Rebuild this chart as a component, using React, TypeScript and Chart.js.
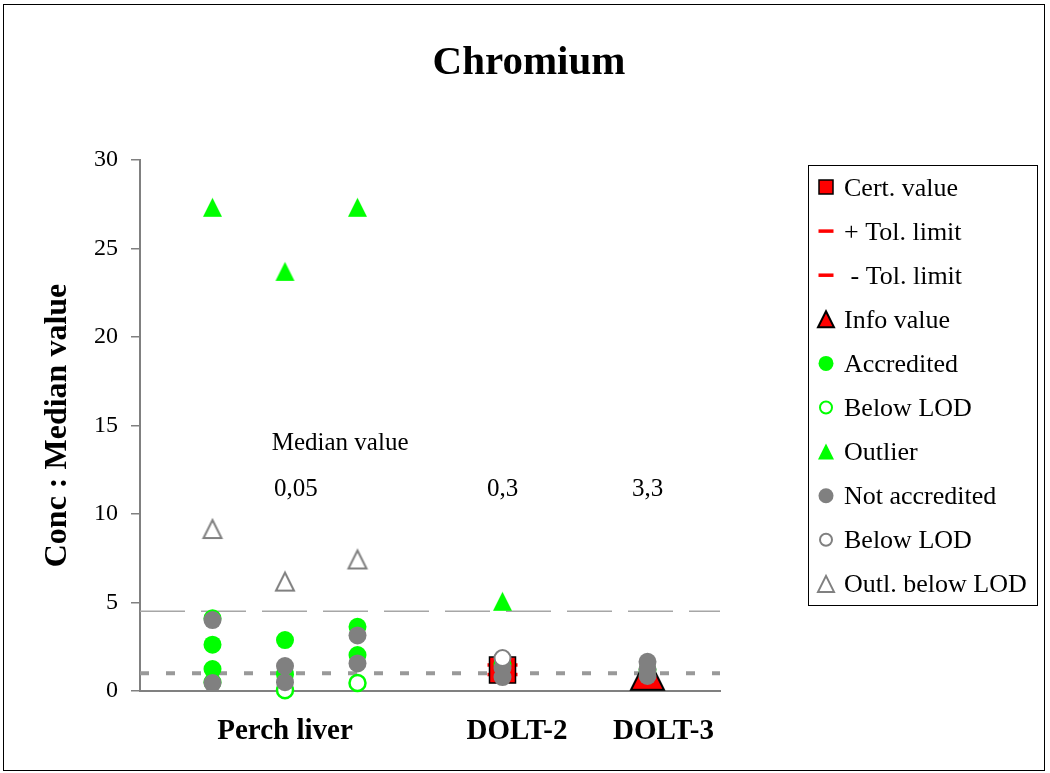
import React, { useEffect, useRef } from 'react';
import { Chart, registerables } from 'chart.js';

Chart.register(...registerables);

const FONT = '"Liberation Serif", "Times New Roman", Times, serif';
const AXIS_COLOR = '#808080';
const GREEN = '#00ff00';
const GREY = '#808080';
const RED = '#ff0000';

// Samples on the x axis and where their names sit
const categoryNames = ['Perch liver', 'DOLT-2', 'DOLT-3'];
const categoryTickX = [2, 5.2, 7.22];

// Median concentration printed above each sample
const medianTitle = 'Median value';
const medianValues = ['0,05', '0,3', '3,3'];
const medianLabelX = [2.15, 5, 7];
const medianTitlePos = { x: 2.76, y: 13.6 };
const medianValueY = 11.0;

// Axis ranges
const xRange = [0, 8];
const yRange = [0, 30];
const yStep = 5;

// Horizontal reference levels (ratio to median)
const upperLevel = 4.5;
const unityLevel = 1;

// Ratios concentration : median value
const certValue = [{ x: 5, y: 1.18 }];
const tolUpper = [{ x: 5, y: 1.47 }];
const tolLower = [{ x: 5, y: 0.93 }];
const infoValue = [{ x: 7, y: 1.0 }];
const accredited = [
  { x: 1, y: 4.11 }, { x: 1, y: 2.62 }, { x: 1, y: 1.24 }, { x: 1, y: 0.5 },
  { x: 2, y: 2.88 }, { x: 2, y: 0.95 },
  { x: 3, y: 3.63 }, { x: 3, y: 2.03 },
  { x: 5, y: 1.5 }, { x: 7, y: 1.2 },
];
const accreditedBelowLod = [{ x: 2, y: 0.04 }, { x: 3, y: 0.45 }];
const outliers = [{ x: 1, y: 27.33 }, { x: 2, y: 23.71 }, { x: 3, y: 27.33 }, { x: 5, y: 5.07 }];
const notAccredited = [
  { x: 1, y: 4.01 }, { x: 1, y: 0.45 },
  { x: 2, y: 1.41 }, { x: 2, y: 0.5 },
  { x: 3, y: 3.14 }, { x: 3, y: 1.56 },
  { x: 5, y: 1.3 }, { x: 5, y: 0.79 },
  { x: 7, y: 1.65 }, { x: 7, y: 1.25 }, { x: 7, y: 0.85 },
];
const notAccreditedBelowLod = [{ x: 5, y: 1.86 }];
const outliersBelowLod = [{ x: 1, y: 9.15 }, { x: 2, y: 6.18 }, { x: 3, y: 7.43 }];

type Shape = 'circle' | 'rect' | 'line' | 'triangle';
type Marker = { shape: Shape; size: number; legendSize: number; fill: string; stroke: string; lineWidth: number };
type Series = { label: string; data: { x: number; y: number }[]; marker: Marker; order: number };

const series: Series[] = [
  { label: 'Cert. value', data: certValue, order: 8, marker: { shape: 'rect', size: 26, legendSize: 14, fill: RED, stroke: '#000', lineWidth: 1.5 } },
  { label: '+ Tol. limit', data: tolUpper, order: 9, marker: { shape: 'line', size: 30, legendSize: 15, fill: RED, stroke: RED, lineWidth: 3.5 } },
  { label: ' - Tol. limit', data: tolLower, order: 9, marker: { shape: 'line', size: 30, legendSize: 15, fill: RED, stroke: RED, lineWidth: 3.5 } },
  { label: 'Info value', data: infoValue, order: 7, marker: { shape: 'triangle', size: 33, legendSize: 16, fill: RED, stroke: '#000', lineWidth: 2 } },
  { label: 'Accredited', data: accredited, order: 6, marker: { shape: 'circle', size: 18, legendSize: 15, fill: GREEN, stroke: GREEN, lineWidth: 0 } },
  { label: 'Below LOD', data: accreditedBelowLod, order: 4, marker: { shape: 'circle', size: 16, legendSize: 12, fill: '#ffffff', stroke: GREEN, lineWidth: 2.5 } },
  { label: 'Outlier', data: outliers, order: 5, marker: { shape: 'triangle', size: 19, legendSize: 16, fill: GREEN, stroke: GREEN, lineWidth: 0 } },
  { label: 'Not accredited', data: notAccredited, order: 3, marker: { shape: 'circle', size: 18, legendSize: 15, fill: GREY, stroke: GREY, lineWidth: 0 } },
  { label: 'Below LOD', data: notAccreditedBelowLod, order: 2, marker: { shape: 'circle', size: 16, legendSize: 12, fill: '#ffffff', stroke: GREY, lineWidth: 2 } },
  { label: 'Outl. below LOD', data: outliersBelowLod, order: 1, marker: { shape: 'triangle', size: 18, legendSize: 16, fill: '#ffffff', stroke: GREY, lineWidth: 2 } },
];

// Upright triangle with equal width and height, centred in its canvas
function triangleImage(m: Marker): HTMLCanvasElement {
  const pad = Math.ceil(m.lineWidth) + 1;
  const c = document.createElement('canvas');
  c.width = m.size + pad * 2;
  c.height = m.size + pad * 2;
  const g = c.getContext('2d')!;
  g.beginPath();
  g.moveTo(pad + m.size / 2, pad);
  g.lineTo(pad + m.size, pad + m.size);
  g.lineTo(pad, pad + m.size);
  g.closePath();
  g.fillStyle = m.fill;
  g.fill();
  if (m.lineWidth > 0) {
    g.lineWidth = m.lineWidth;
    g.strokeStyle = m.stroke;
    g.lineJoin = 'miter';
    g.stroke();
  }
  return c;
}

function markerDataset(s: Series): any {
  const m = s.marker;
  let pointStyle: any = m.shape;
  let radius = m.size / 2;
  if (m.shape === 'rect') radius = m.size / Math.SQRT2;
  if (m.shape === 'triangle') pointStyle = triangleImage(m);
  return {
    type: 'scatter',
    label: s.label,
    data: s.data,
    order: s.order,
    clip: false,
    showLine: false,
    pointStyle,
    pointRadius: radius,
    pointHoverRadius: radius,
    backgroundColor: m.fill,
    borderColor: m.stroke,
    borderWidth: m.lineWidth,
    pointBorderWidth: m.lineWidth,
    pointHoverBorderWidth: m.lineWidth,
  };
}

function levelDataset(level: number, color: string, width: number, dash: number[]): any {
  return {
    type: 'line',
    data: [{ x: xRange[0], y: level }, { x: xRange[1], y: level }],
    order: 20,
    borderColor: color,
    borderWidth: width,
    borderDash: dash,
    borderCapStyle: 'butt',
    pointRadius: 0,
    pointHoverRadius: 0,
    fill: false,
  };
}

function drawLegendMarker(ctx: CanvasRenderingContext2D, m: Marker, x: number, y: number) {
  const s = m.legendSize;
  ctx.save();
  ctx.beginPath();
  if (m.shape === 'circle') ctx.arc(x, y, s / 2, 0, Math.PI * 2);
  else if (m.shape === 'rect') ctx.rect(x - s / 2, y - s / 2, s, s);
  else if (m.shape === 'triangle') {
    ctx.moveTo(x, y - s / 2);
    ctx.lineTo(x + s / 2, y + s / 2);
    ctx.lineTo(x - s / 2, y + s / 2);
    ctx.closePath();
  } else {
    ctx.moveTo(x - s / 2, y);
    ctx.lineTo(x + s / 2, y);
  }
  if (m.shape !== 'line') {
    ctx.fillStyle = m.fill;
    ctx.fill();
  }
  if (m.lineWidth > 0) {
    ctx.lineWidth = m.shape === 'line' ? m.lineWidth : Math.min(m.lineWidth, 2);
    ctx.strokeStyle = m.stroke;
    ctx.stroke();
  }
  ctx.restore();
}

const decorations = {
  id: 'decorations',
  beforeDraw(chart: any) {
    const { ctx, width, height } = chart;
    ctx.save();
    ctx.fillStyle = '#ffffff';
    ctx.fillRect(0, 0, width, height);
    ctx.strokeStyle = '#000000';
    ctx.lineWidth = 1;
    ctx.strokeRect(3.5, 4.5, 1041, 766);
    ctx.restore();
  },
  afterDraw(chart: any) {
    const { ctx } = chart;
    const xs = chart.scales.x;
    const ys = chart.scales.y;
    ctx.save();
    // Title
    ctx.fillStyle = '#000';
    ctx.textAlign = 'center';
    ctx.textBaseline = 'alphabetic';
    ctx.font = `bold 41px ${FONT}`;
    ctx.fillText('Chromium', 529, 74);

    // Median values
    ctx.font = `25px ${FONT}`;
    ctx.fillText(medianTitle, xs.getPixelForValue(medianTitlePos.x), ys.getPixelForValue(medianTitlePos.y));
    medianValues.forEach((t, i) => {
      ctx.fillText(t, xs.getPixelForValue(medianLabelX[i]), ys.getPixelForValue(medianValueY));
    });

    // Legend box
    const boxL = 808, boxT = 165, boxW = 229, boxH = 440;
    ctx.fillStyle = '#ffffff';
    ctx.fillRect(boxL, boxT, boxW, boxH);
    ctx.strokeStyle = '#000';
    ctx.lineWidth = 1;
    ctx.strokeRect(boxL + 0.5, boxT + 0.5, boxW, boxH);
    ctx.textAlign = 'left';
    ctx.font = `26px ${FONT}`;
    series.forEach((s, i) => {
      const cy = 187 + i * 44.1;
      drawLegendMarker(ctx, s.marker, 826, cy);
      ctx.fillStyle = '#000';
      ctx.fillText(s.label, 844, cy + 8.5);
    });
    ctx.restore();
  },
};

export default function App() {
  const canvasRef = useRef<HTMLCanvasElement | null>(null);

  useEffect(() => {
    if (!canvasRef.current) return;
    const datasets = [
      ...series.map(markerDataset),
      levelDataset(upperLevel, '#a6a6a6', 1.5, [45, 16]),
      levelDataset(unityLevel, '#999999', 4, [9, 17]),
    ];
    const chart = new Chart(canvasRef.current, {
      type: 'scatter',
      data: { datasets },
      options: {
        animation: false,
        responsive: false,
        devicePixelRatio: 1,
        layout: { padding: { left: 0, top: 160, right: 330, bottom: 0 } },
        plugins: {
          legend: { display: false },
          tooltip: { enabled: false },
          title: { display: false },
        },
        scales: {
          x: {
            type: 'linear',
            min: xRange[0],
            max: xRange[1],
            afterBuildTicks: (scale: any) => {
              scale.ticks = categoryTickX.map((v) => ({ value: v }));
            },
            afterFit: (scale: any) => {
              scale.height = 82;
            },
            grid: { display: false, drawTicks: false },
            border: { display: true, color: AXIS_COLOR, width: 2 },
            ticks: {
              autoSkip: false,
              maxRotation: 0,
              padding: 23,
              color: '#000',
              font: { family: FONT, size: 29, weight: 'bold' },
              callback: (_v: any, i: number) => categoryNames[i] ?? '',
            },
          },
          y: {
            type: 'linear',
            min: yRange[0],
            max: yRange[1],
            afterFit: (scale: any) => {
              scale.width = 140;
            },
            ticks: {
              stepSize: yStep,
              padding: 13,
              color: '#000',
              font: { family: FONT, size: 24 },
            },
            grid: {
              drawOnChartArea: false,
              drawTicks: true,
              tickLength: 9,
              color: AXIS_COLOR,
              lineWidth: 1.5,
            },
            border: { display: true, color: AXIS_COLOR, width: 2 },
            title: {
              display: true,
              text: 'Conc : Median value',
              color: '#000',
              font: { family: FONT, size: 32, weight: 'bold' },
              padding: { top: 39, bottom: 0 },
            },
          },
        },
      } as any,
      plugins: [decorations],
    });
    return () => chart.destroy();
  }, []);

  return (
    <div style={{ position: 'fixed', left: 0, top: 0, width: 1050, height: 773, background: '#fff' }}>
      <canvas ref={canvasRef} width={1050} height={773} style={{ display: 'block', width: 1050, height: 773 }} />
    </div>
  );
}
